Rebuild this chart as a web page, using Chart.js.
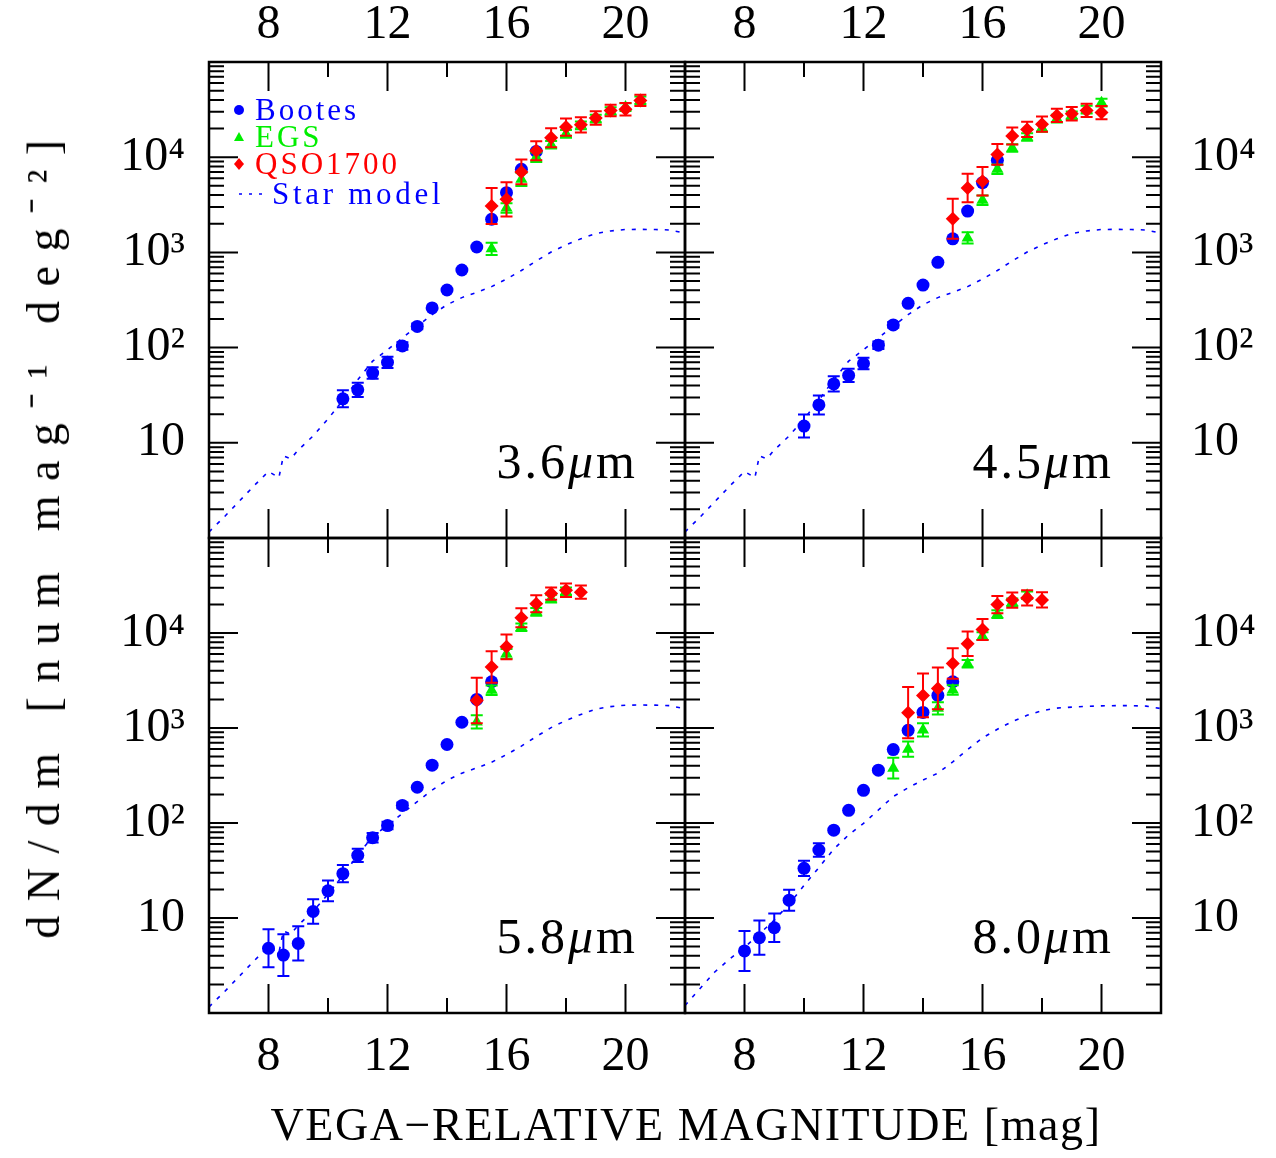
<!DOCTYPE html>
<html>
<head>
<meta charset="utf-8">
<script src="https://cdn.jsdelivr.net/npm/chart.js@4.4.1/dist/chart.umd.min.js"></script>
<style>
  body { margin: 0; background: #fff; width: 1276px; height: 1158px; position: relative; overflow: hidden; }
  canvas { position: absolute; left: 0; top: 0; }
  .title { position: absolute; font-family: "Liberation Serif", serif; color: #000; white-space: nowrap; }
  #xtitle { left: 0; width: 1372px; top: 1098px; text-align: center; font-size: 46px; letter-spacing: 1.6px; }
  #ytitle { left: 41px; top: 532px; font-size: 46px; transform: translate(-50%, -50%) rotate(-90deg); letter-spacing: 14.5px; }
</style>
</head>
<body>
<canvas id="p36" width="1276" height="1158"></canvas>
<canvas id="p45" width="1276" height="1158"></canvas>
<canvas id="p58" width="1276" height="1158"></canvas>
<canvas id="p80" width="1276" height="1158"></canvas>
<div class="title" id="xtitle">VEGA−RELATIVE MAGNITUDE [mag]</div>
<div class="title" id="ytitle">dN/dm [num mag⁻¹ deg⁻²]</div>
<script>
// axis ticks
const magTicks = [8, 12, 16, 20];
const countTicks = [10, 100, 1000, 10000];
const countLabels = ['10', '10²', '10³', '10⁴'];

// star model (3.6, 4.5, 5.8 um)
const starMagA = [6, 6.5, 7, 7.5, 8, 8.35, 8.5, 8.75, 9, 9.5, 10, 10.5, 11, 11.5, 12, 12.5, 13, 13.5, 14, 14.5, 15, 15.5, 16, 16.5, 17, 17.5, 18, 18.5, 19, 19.5, 20, 20.5, 21, 21.5, 22];
const starA = [1.16, 1.65, 2.4, 3.5, 5.0, 4.3, 7.3, 6.8, 8.4, 11.8, 17.8, 28, 46, 72, 95, 126, 168, 222, 282, 335, 380, 437, 525, 645, 813, 1010, 1200, 1390, 1580, 1680, 1740, 1745, 1740, 1720, 1590];
// star model (8.0 um)
const starMagB = [6, 6.5, 7, 7.5, 8, 8.5, 9, 9.5, 10, 10.5, 11, 11.5, 12, 12.5, 13, 13.5, 14, 14.5, 15, 15.5, 16, 16.5, 17, 17.5, 18, 18.5, 19, 19.5, 20, 20.5, 21, 21.5, 22];
const starB = [1.2, 1.8, 2.7, 3.7, 4.9, 6.8, 9.5, 14, 22, 34, 53, 75, 99, 137, 190, 235, 283, 335, 440, 593, 787, 970, 1170, 1360, 1520, 1620, 1660, 1690, 1710, 1720, 1720, 1700, 1600];

// 3.6 um
const bootesMag36 = [10.5, 11, 11.5, 12, 12.5, 13, 13.5, 14, 14.5, 15, 15.5, 16, 16.5, 17];
const bootes36 = [29, 36, 54, 70, 104, 167, 261, 403, 653, 1140, 2230, 4240, 7460, 11500];
const bootesErr36 = [0.09, 0.075, 0.06, 0.06, 0.04, 0.03, 0, 0, 0, 0, 0, 0, 0, 0];
const egsMag36 = [15.5, 16, 16.5, 17, 17.5, 18, 18.5, 19, 19.5, 20, 20.5];
const egs36 = [1090, 2920, 5860, 10000, 13500, 17600, 21600, 25400, 30600, 33600, 39500];
const egsErr36 = [0.065, 0.05, 0.07, 0.05, 0.04, 0.04, 0.04, 0.04, 0.04, 0.04, 0.04];
const qsoMag36 = [15.5, 16, 16.5, 17, 17.5, 18, 18.5, 19, 19.5, 20, 20.5];
const qso36 = [3070, 3610, 7000, 11700, 16000, 20700, 21900, 25800, 31000, 31900, 39500];
const qsoErr36 = [0.19, 0.18, 0.13, 0.10, 0.10, 0.09, 0.08, 0.07, 0.06, 0.065, 0.06];

// 4.5 um
const bootesMag45 = [10, 10.5, 11, 11.5, 12, 12.5, 13, 13.5, 14, 14.5, 15, 15.5, 16, 16.5];
const bootes45 = [15, 25, 41.5, 51, 68, 106, 173, 292, 454, 787, 1390, 2720, 5400, 9270];
const bootesErr45 = [0.12, 0.1, 0.08, 0.07, 0.06, 0.04, 0.03, 0, 0, 0, 0, 0, 0, 0];
const egsMag45 = [15.5, 16, 16.5, 17, 17.5, 18, 18.5, 19, 19.5, 20];
const egs45 = [1420, 3530, 7460, 12500, 16300, 20300, 25400, 27600, 31600, 37400];
const egsErr45 = [0.06, 0.05, 0.05, 0.04, 0.04, 0.04, 0.04, 0.04, 0.04, 0.04];
const qsoMag45 = [15, 15.5, 16, 16.5, 17, 17.5, 18, 18.5, 19, 19.5, 20];
const qso45 = [2260, 4740, 5580, 10700, 16700, 19600, 22200, 27500, 28600, 31000, 29400];
const qsoErr45 = [0.21, 0.15, 0.15, 0.11, 0.09, 0.08, 0.08, 0.07, 0.07, 0.07, 0.07];

// 5.8 um
const bootesMag58 = [8, 8.5, 9, 9.5, 10, 10.5, 11, 11.5, 12, 12.5, 13, 13.5, 14, 14.5, 15, 15.5];
const bootes58 = [4.8, 4.07, 5.4, 11.7, 19.3, 29.3, 45.7, 70, 94, 153, 238, 406, 670, 1150, 2000, 3070];
const bootesErr58 = [0.2, 0.22, 0.18, 0.13, 0.11, 0.09, 0.07, 0.05, 0.04, 0.03, 0, 0, 0, 0, 0, 0];
const egsMag58 = [15, 15.5, 16, 16.5, 17, 17.5, 18];
const egs58 = [1160, 2490, 6030, 11500, 16700, 23000, 27500];
const egsErr58 = [0.07, 0.05, 0.05, 0.04, 0.04, 0.04, 0.04];
const qsoMag58 = [15, 15.5, 16, 16.5, 17, 17.5, 18, 18.5];
const qso58 = [1950, 4390, 7160, 14500, 20300, 26000, 28200, 26900];
const qsoErr58 = [0.24, 0.165, 0.13, 0.1, 0.09, 0.065, 0.07, 0.07];

// 8.0 um
const bootesMag80 = [8, 8.5, 9, 9.5, 10, 10.5, 11, 11.5, 12, 12.5, 13, 13.5, 14, 14.5, 15];
const bootes80 = [4.5, 6.2, 7.9, 15.4, 33.3, 52, 84, 136, 221, 360, 593, 946, 1460, 2200, 3070];
const bootesErr80 = [0.21, 0.18, 0.15, 0.11, 0.08, 0.07, 0, 0, 0, 0, 0, 0, 0, 0, 0];
const egsMag80 = [13, 13.5, 14, 14.5, 15, 15.5, 16, 16.5, 17, 17.5];
const egs80 = [378, 598, 955, 1610, 2510, 4750, 9270, 15800, 21100, 25000];
const egsErr80 = [0.11, 0.08, 0.07, 0.065, 0.05, 0.04, 0.04, 0.04, 0.04, 0.04];
const qsoMag80 = [13.5, 14, 14.5, 15, 15.5, 16, 16.5, 17, 17.5, 18];
const qso80 = [1450, 2200, 2610, 4780, 7710, 10900, 19900, 22200, 23400, 22300];
const qsoErr80 = [0.27, 0.23, 0.22, 0.16, 0.13, 0.11, 0.09, 0.08, 0.08, 0.08];

const FONT = '"Liberation Serif", serif';
const pts = (xs, ys) => xs.map((x, i) => ({ x: x, y: ys[i] }));

// frame, inward ticks, error bars, panel label, legend
const panelPlugin = {
  id: 'panel',
  afterDatasetDraw(chart, args) {
    const ds = chart.data.datasets[args.index];
    if (!ds.errDex) return;
    const { ctx, chartArea: a } = chart;
    const x = chart.scales.x, y = chart.scales.y;
    ctx.save();
    ctx.beginPath(); ctx.rect(a.left, a.top, a.right - a.left, a.bottom - a.top); ctx.clip();
    ctx.strokeStyle = ds.borderColor; ctx.lineWidth = 2;
    ds.data.forEach((p, i) => {
      const e = ds.errDex[i];
      if (!e) return;
      const px = x.getPixelForValue(p.x);
      const yt = y.getPixelForValue(p.y * Math.pow(10, e));
      const yb = y.getPixelForValue(p.y / Math.pow(10, e));
      ctx.beginPath();
      ctx.moveTo(px, yt); ctx.lineTo(px, yb);
      ctx.moveTo(px - 6, yt); ctx.lineTo(px + 6, yt);
      ctx.moveTo(px - 6, yb); ctx.lineTo(px + 6, yb);
      ctx.stroke();
    });
    ctx.restore();
  },
  afterDraw(chart, args, opts) {
    const { ctx, chartArea: a } = chart;
    const x = chart.scales.x, y = chart.scales.y;
    ctx.save();
    ctx.strokeStyle = '#000';
    ctx.lineWidth = 2;
    // x ticks every 2 mag, long at 8/12/16/20
    for (let m = 6; m <= 22; m += 2) {
      const px = x.getPixelForValue(m);
      const len = magTicks.includes(m) ? 29 : 15;
      ctx.beginPath();
      ctx.moveTo(px, a.top); ctx.lineTo(px, a.top + len);
      ctx.moveTo(px, a.bottom); ctx.lineTo(px, a.bottom - len);
      ctx.stroke();
    }
    // log y ticks
    for (let d = 0; d < 5; d++) {
      for (let k = 1; k <= 9; k++) {
        const v = k * Math.pow(10, d);
        const py = y.getPixelForValue(v);
        const len = k === 1 ? 29 : 15;
        ctx.beginPath();
        ctx.moveTo(a.left, py); ctx.lineTo(a.left + len, py);
        ctx.moveTo(a.right, py); ctx.lineTo(a.right - len, py);
        ctx.stroke();
      }
    }
    ctx.lineWidth = 2.5;
    ctx.strokeRect(a.left, a.top, a.right - a.left, a.bottom - a.top);

    // band label, e.g. 3.6μm
    ctx.fillStyle = '#000';
    ctx.textBaseline = 'alphabetic';
    ctx.textAlign = 'left';
    ctx.letterSpacing = '3px';
    const base = a.bottom - 60;
    const rx = a.right - 47;
    ctx.font = '50px ' + FONT;
    const wm = ctx.measureText('m').width;
    ctx.font = 'italic 50px ' + FONT;
    const wmu = ctx.measureText('μ').width;
    ctx.font = '50px ' + FONT;
    const wn = ctx.measureText(opts.band).width;
    const sx = rx - wm - wmu - wn;
    ctx.fillText(opts.band, sx, base);
    ctx.font = 'italic 50px ' + FONT;
    ctx.fillText('μ', sx + wn, base);
    ctx.font = '50px ' + FONT;
    ctx.fillText('m', sx + wn + wmu, base);

    if (opts.legend) {
      const lx = a.left + 30;
      ctx.font = '31px ' + FONT;
      ctx.letterSpacing = '3px';
      const items = [
        { t: 'Bootes', c: '#0000ff', s: 'circle', y: a.top + 48 },
        { t: 'EGS', c: '#00ee00', s: 'triangle', y: a.top + 75 },
        { t: 'QSO1700', c: '#ff0000', s: 'diamond', y: a.top + 102 }
      ];
      items.forEach(it => {
        ctx.fillStyle = it.c;
        ctx.beginPath();
        if (it.s === 'circle') ctx.arc(lx, it.y, 5, 0, Math.PI * 2);
        if (it.s === 'triangle') { ctx.moveTo(lx, it.y - 5); ctx.lineTo(lx + 5, it.y + 4); ctx.lineTo(lx - 5, it.y + 4); ctx.closePath(); }
        if (it.s === 'diamond') { ctx.moveTo(lx, it.y - 6); ctx.lineTo(lx + 5, it.y); ctx.lineTo(lx, it.y + 6); ctx.lineTo(lx - 5, it.y); ctx.closePath(); }
        ctx.fill();
        ctx.fillText(it.t, lx + 16, it.y + 10);
      });
      const sy = a.top + 132;
      ctx.strokeStyle = '#0000ff'; ctx.lineWidth = 1.5;
      ctx.setLineDash([3, 7]);
      ctx.beginPath(); ctx.moveTo(lx, sy); ctx.lineTo(lx + 25, sy); ctx.stroke();
      ctx.setLineDash([]);
      ctx.fillStyle = '#0000ff';
      ctx.letterSpacing = '3.7px';
      ctx.fillText('Star model', lx + 33, sy + 10);
    }
    ctx.restore();
  }
};

function makePanel(id, o) {
  const top = o.row === 'top';
  const left = o.side === 'left';
  new Chart(document.getElementById(id), {
    type: 'scatter',
    data: {
      datasets: [
        { label: 'QSO1700', data: pts(o.qsoMag, o.qso), errDex: o.qsoErr, order: 0,
          pointStyle: 'rectRot', pointRadius: 7, backgroundColor: '#ff0000', borderColor: '#ff0000', borderWidth: 0 },
        { label: 'EGS', data: pts(o.egsMag, o.egs), errDex: o.egsErr, order: 1,
          pointStyle: 'triangle', pointRadius: 7, backgroundColor: '#00ee00', borderColor: '#00ee00', borderWidth: 0 },
        { label: 'Bootes', data: pts(o.bootesMag, o.bootes), errDex: o.bootesErr, order: 2,
          pointStyle: 'circle', pointRadius: 6.5, backgroundColor: '#0000ff', borderColor: '#0000ff', borderWidth: 0 },
        { label: 'Star model', type: 'line', data: pts(o.starMag, o.star), order: 3,
          showLine: true, pointRadius: 0, borderColor: '#0000ff', borderWidth: 1.6, borderDash: [4, 7], tension: 0 }
      ]
    },
    options: {
      responsive: false,
      animation: false,
      events: [],
      layout: {
        padding: {
          left: left ? 0 : 685,
          right: left ? 591 : 0,
          top: top ? 0 : 538,
          bottom: top ? 620 : 0
        }
      },
      plugins: {
        legend: { display: false },
        tooltip: { enabled: false },
        panel: { band: o.band, legend: !!o.legend }
      },
      scales: {
        x: {
          type: 'linear', min: 6, max: 22,
          position: top ? 'top' : 'bottom',
          grid: { display: false, drawTicks: false },
          border: { display: false },
          afterBuildTicks: s => { s.ticks = magTicks.map(v => ({ value: v })); },
          afterFit: s => { s.height = top ? 62 : 145; },
          ticks: { color: '#000', font: { family: FONT, size: 48 }, padding: top ? 8 : 16, maxRotation: 0,
                   callback: v => String(v) }
        },
        y: {
          type: 'logarithmic', min: 1, max: 100000,
          position: left ? 'left' : 'right',
          grid: { display: false, drawTicks: false },
          border: { display: false },
          afterBuildTicks: s => { s.ticks = countTicks.map(v => ({ value: v })); },
          afterFit: s => { s.width = left ? 209 : 115; },
          ticks: { color: '#000', font: { family: FONT, size: 48 }, padding: left ? 24 : 30,
                   callback: v => countLabels[countTicks.indexOf(v)] }
        }
      }
    },
    plugins: [panelPlugin]
  });
}

makePanel('p36', { row: 'top', side: 'left', band: '3.6', legend: true,
  bootesMag: bootesMag36, bootes: bootes36, bootesErr: bootesErr36,
  egsMag: egsMag36, egs: egs36, egsErr: egsErr36,
  qsoMag: qsoMag36, qso: qso36, qsoErr: qsoErr36,
  starMag: starMagA, star: starA });
makePanel('p45', { row: 'top', side: 'right', band: '4.5',
  bootesMag: bootesMag45, bootes: bootes45, bootesErr: bootesErr45,
  egsMag: egsMag45, egs: egs45, egsErr: egsErr45,
  qsoMag: qsoMag45, qso: qso45, qsoErr: qsoErr45,
  starMag: starMagA, star: starA });
makePanel('p58', { row: 'bottom', side: 'left', band: '5.8',
  bootesMag: bootesMag58, bootes: bootes58, bootesErr: bootesErr58,
  egsMag: egsMag58, egs: egs58, egsErr: egsErr58,
  qsoMag: qsoMag58, qso: qso58, qsoErr: qsoErr58,
  starMag: starMagA, star: starA });
makePanel('p80', { row: 'bottom', side: 'right', band: '8.0',
  bootesMag: bootesMag80, bootes: bootes80, bootesErr: bootesErr80,
  egsMag: egsMag80, egs: egs80, egsErr: egsErr80,
  qsoMag: qsoMag80, qso: qso80, qsoErr: qsoErr80,
  starMag: starMagB, star: starB });
</script>
</body>
</html>
